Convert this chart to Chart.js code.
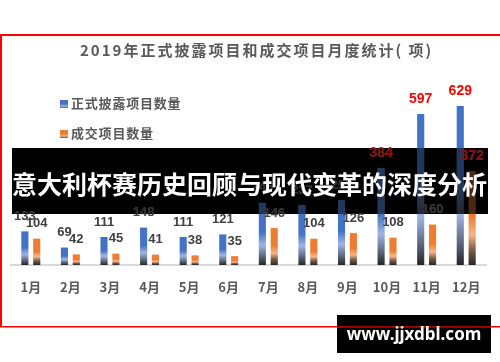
<!DOCTYPE html>
<html>
<head>
<meta charset="utf-8">
<script src="https://cdn.jsdelivr.net/npm/chart.js@4"></script>
<style>
  html, body { margin: 0; padding: 0; background: #fff; }
  #wrap { position: relative; width: 500px; height: 362px; overflow: hidden; }
  #c { position: absolute; left: 0; top: 0; }
  .txt { position: absolute; white-space: nowrap; font-family: "Noto Sans CJK SC", sans-serif; font-weight: bold; }
  #title { left: 80px; top: 40px; font-size: 15px; letter-spacing: 2px; color: #595959; line-height: 20px; }
  .leg { left: 60px; font-size: 13px; letter-spacing: 0.8px; color: #595959; line-height: 16px; }
  .leg i { display: inline-block; width: 8px; height: 8px; margin-right: 3px; vertical-align: 0px; }
  #banner { left: 12px; top: 166px; font-size: 25px; color: #fff; line-height: 34px; }
  #wm { left: 337px; top: 322px; width: 154px; text-align: center; font-family: "Noto Sans", sans-serif; font-size: 17px; color: #fff; line-height: 24px; }
</style>
</head>
<body>
<div id="wrap">
  <canvas id="c" width="500" height="362"></canvas>
  <div class="txt" id="title">2019年正式披露项目和成交项目月度统计( 项)</div>
  <div class="txt leg" style="top:95px"><i style="background:linear-gradient(#4472c4 0%,#4472c4 50%,#9fb6e2 75%,#5a6478 100%)"></i>正式披露项目数量</div>
  <div class="txt leg" style="top:125px"><i style="background:linear-gradient(#ed7d31 0%,#ed7d31 50%,#f5b68c 75%,#6e5040 100%)"></i>成交项目数量</div>
  <div class="txt" id="banner">意大利杯赛历史回顾与现代变革的深度分析</div>
  <div class="txt" id="wm">www.jjxdbl.com</div>
</div>
<script>
'use strict'
const MONTHS = ['1月', '2月', '3月', '4月', '5月', '6月', '7月', '8月', '9月', '10月', '11月', '12月']
const DISCLOSED = [133, 69, 111, 148, 111, 121, 246, 237, 257, 384, 597, 629]
const DEALS = [104, 42, 45, 41, 38, 35, 146, 104, 126, 108, 160, 372]
const Y_MAX = 700

// darkened overlay boxes (banner + watermark)
const SHADES = [
    { x: 12, y: 148, w: 476, h: 66 },
    { x: 337, y: 315, w: 154, h: 38 }
]

function barFill(base, light, dark) {
    return function (c) {
        const y = c.chart.scales.y
        if (c.type !== 'data' || !y) return base
        const y0 = y.getPixelForValue(0)
        const y1 = y.getPixelForValue(c.raw)
        if (!isFinite(y0) || !isFinite(y1) || y0 - y1 < 1) return base
        const g = c.chart.ctx.createLinearGradient(0, y1, 0, y0)
        g.addColorStop(0, base)
        g.addColorStop(0.48, base)
        g.addColorStop(0.68, light)
        g.addColorStop(0.84, dark)
        g.addColorStop(1, '#262626')
        return g
    }
}

const frame = {
    id: 'frame',
    beforeDraw(chart) {
        const ctx = chart.ctx
        ctx.save()
        ctx.fillStyle = '#fff'
        ctx.fillRect(0, 0, chart.width, chart.height)
        ctx.fillStyle = '#ff0000'
        ctx.fillRect(0, 34, chart.width, 2)
        ctx.fillRect(0, 34, 2, 293)
        ctx.fillRect(0, 326, chart.width, 1.5)
        ctx.restore()
    }
}

const valueLabels = {
    id: 'valueLabels',
    afterDatasetsDraw(chart) {
        const ctx = chart.ctx
        ctx.save()
        ctx.textAlign = 'center'
        ctx.textBaseline = 'middle'
        chart.data.datasets.forEach(function (ds, i) {
            chart.getDatasetMeta(i).data.forEach(function (bar, j) {
                const v = ds.data[j]
                const big = v >= 300
                ctx.font = (big ? 'bold 14px' : 'bold 13px') + ' "Liberation Sans", Arial, sans-serif'
                ctx.fillStyle = big ? '#ff0000' : '#404040'
                ctx.fillText(String(v), bar.x, bar.y - 15)
            })
        })
        ctx.restore()
    }
}

const shade = {
    id: 'shade',
    afterDraw(chart) {
        const ctx = chart.ctx
        const r = chart.currentDevicePixelRatio || 1
        for (const s of SHADES) {
            const img = ctx.getImageData(s.x * r, s.y * r, s.w * r, s.h * r)
            const d = img.data
            for (let k = 0; k < d.length; k += 4) {
                const L = (0.299 * d[k] + 0.587 * d[k + 1] + 0.114 * d[k + 2]) / 255
                const f = Math.pow(Math.max(0, 1 - L), 1.3)
                d[k] *= f; d[k + 1] *= f; d[k + 2] *= f
            }
            ctx.putImageData(img, s.x * r, s.y * r)
        }
    }
}

new Chart(document.getElementById('c'), {
    type: 'bar',
    data: {
        labels: MONTHS,
        datasets: [{
            label: '正式披露项目数量',
            data: DISCLOSED,
            backgroundColor: barFill('#4472c4', '#9fb6e2', '#66708a'),
            categoryPercentage: 0.6,
            barPercentage: 0.6
        }, {
            label: '成交项目数量',
            data: DEALS,
            backgroundColor: barFill('#ed7d31', '#f5b68c', '#7a5c48'),
            categoryPercentage: 0.6,
            barPercentage: 0.6
        }]
    },
    options: {
        responsive: false,
        animation: false,
        layout: { padding: { left: 11, right: 14, top: 88, bottom: 67 } },
        plugins: {
            legend: { display: false },
            title: { display: false },
            tooltip: { enabled: false }
        },
        scales: {
            x: {
                grid: { display: false, drawTicks: false },
                border: { display: true, color: '#d9d9d9', width: 2 },
                ticks: {
                    padding: 14,
                    color: '#595959',
                    font: { family: '"Noto Sans CJK SC", sans-serif', size: 13, weight: 'bold' }
                },
                afterFit(scale) { scale.height = 30 }
            },
            y: { display: false, min: 0, max: Y_MAX }
        }
    },
    plugins: [frame, valueLabels, shade]
})
</script>
</body>
</html>
